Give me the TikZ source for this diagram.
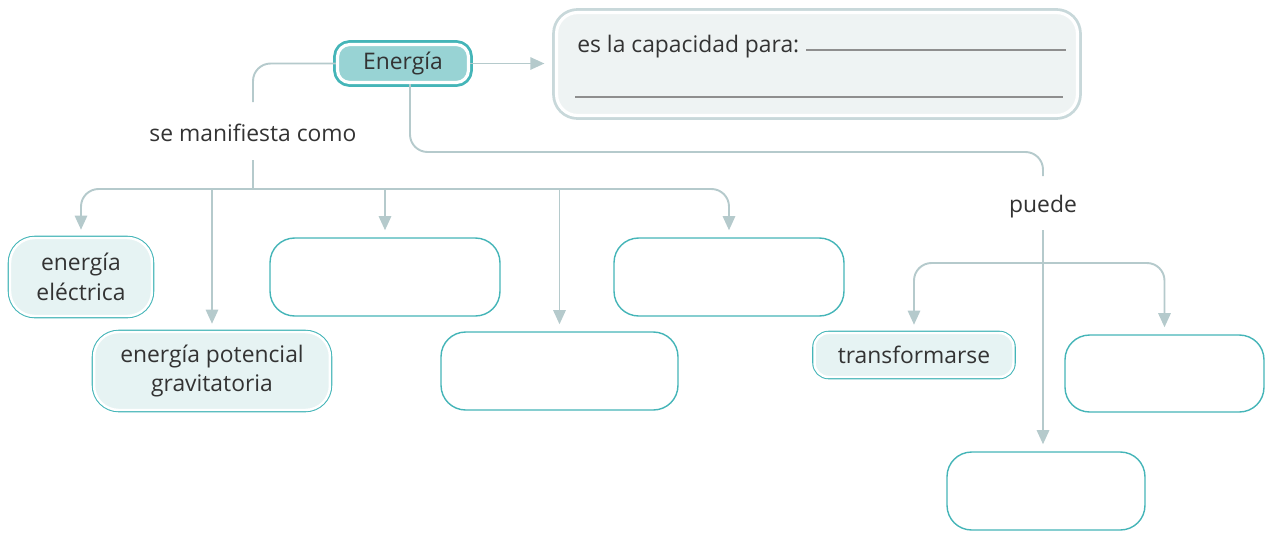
\documentclass[tikz,border=0pt]{standalone}
\usepackage{fontspec}
\setmainfont{Open Sans}
\usetikzlibrary{arrows.meta,positioning}
\definecolor{ink}{HTML}{333333}
\definecolor{tealc}{HTML}{45B5B8}
\definecolor{tealfill}{HTML}{98D3D4}
\definecolor{lightfill}{HTML}{E6F3F3}
\definecolor{connc}{HTML}{B5CACC}
\definecolor{defc}{HTML}{C8D8DA}
\definecolor{deffill}{HTML}{EEF3F3}
\definecolor{rulec}{HTML}{8E8E8E}
\tikzset{
  conn/.style={draw=connc, line width=1.1pt},
  arr/.style={conn, ->, shorten >=4pt},
  blank/.style={draw=tealc, line width=.8pt, rounded corners=14pt, fill=white, minimum height=1.56cm, align=center},
  filled/.style={blank, fill=lightfill, preaction={draw=tealc, line width=2.6pt}, draw=white, line width=1.4pt},
  energy/.style={fill=tealfill, preaction={draw=tealc, line width=5pt}, draw=white, line width=1.8pt, rounded corners=7pt},
  defbox/.style={fill=deffill, preaction={draw=defc, line width=5pt}, draw=white, line width=1.8pt, rounded corners=12pt},
  word/.style={inner sep=0pt},
  rule/.style={draw=rulec, line width=1.1pt}
}
\begin{document}
\begin{tikzpicture}[x=.02cm, y=-.02cm, font=\fontsize{13}{17}\selectfont, text=ink, line join=round, >={Triangle[width=7pt,length=8pt]}]
\useasboundingbox (0,0) rectangle (1272,532);
% concepto y definicion
\node[energy, minimum width=2.62cm, minimum height=.76cm] (energia) at (403,63.5) {Energía};
\node[defbox, minimum width=10.42cm, minimum height=2.06cm] (def) at (817,64) {};
\node[anchor=base west, inner sep=0pt] (para) at (577,52) {es la capacidad para:};
\draw[rule] (806,50) -- (1066,50) (575,97) -- (1063,97);
\node[word] (manif) at (253,133) {se manifiesta como};
\node[word] (puede) at (1043,207) {puede};
% cajas
\node[filled, minimum width=2.84cm] (elec) at (81,277) {energía\\eléctrica};
\node[blank, minimum width=4.6cm] (vacio1) at (385,277) {};
\node[blank, minimum width=4.6cm] (vacio2) at (729,277) {};
\node[filled, minimum width=4.72cm] (pot) at (212,371) {energía potencial\\gravitatoria};
\node[blank, minimum width=4.74cm] (vacio3) at (559.5,371) {};
\node[filled, minimum width=3.98cm, minimum height=.88cm, rounded corners=8pt] (transf) at (914,355) {transformarse};
\node[blank, minimum width=3.98cm, minimum height=1.54cm] (vacio4) at (1164.5,373.5) {};
\node[blank, minimum width=3.96cm] (vacio5) at (1046,491) {};
% conectores
\path (253,102) coordinate (m1) (253,160) coordinate (m2) (253,189) coordinate (hub)
  (1043,152) coordinate (codo) (1043,176) coordinate (p1) (1043,230) coordinate (p2) (1043,263) coordinate (hub2);
\draw[arr, shorten >=6pt] (energia.east) -- (energia.east -| def.west);
\draw[conn, rounded corners=10pt] (energia.west) -| (m1);
\draw[conn] (m2) -- (hub);
\draw[arr, rounded corners=10pt] (hub) -| (elec.north);
\draw[arr, rounded corners=10pt] (hub) -| (vacio2.north);
\foreach \n in {pot,vacio1,vacio3}
  {\draw[arr] (\n.north |- hub) -- (\n.north);}
\draw[conn, rounded corners=10pt] ([xshift=.14cm]energia.south) |- (codo) -- (p1);
\draw[arr] (p2) -- (p2 |- vacio5.north);
\draw[arr, rounded corners=10pt] (hub2) -| (transf.north);
\draw[arr, rounded corners=10pt] (hub2) -| (vacio4.north);
\end{tikzpicture}
\end{document}
